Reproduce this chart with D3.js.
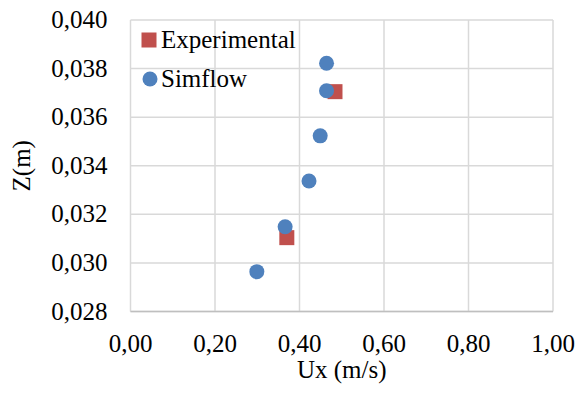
<!DOCTYPE html>
<html>
<head>
<meta charset="utf-8">
<script src="https://cdn.jsdelivr.net/npm/d3@7"></script>
<style>
  body { margin: 0; background: #fff; }
</style>
</head>
<body>
<svg id="chart" width="585" height="396"></svg>
<script>
// Ux (m/s) vs Z (m)
const expUx = [0.484, 0.370];
const expZ = [0.03705, 0.03104];
const simUx = [0.464, 0.464, 0.449, 0.4225, 0.366, 0.299];
const simZ = [0.03822, 0.03709, 0.03523, 0.03337, 0.03149, 0.02964];
const xTicks = [0, 0.2, 0.4, 0.6, 0.8, 1.0];
const yTicks = [0.028, 0.030, 0.032, 0.034, 0.036, 0.038, 0.040];
const seriesNames = ['Experimental', 'Simflow'];

const margin = { top: 20, right: 32, bottom: 84.5, left: 130.5 };
const width = 585, height = 396;
const w = width - margin.left - margin.right;
const h = height - margin.top - margin.bottom;
const font = "'Liberation Serif', 'DejaVu Serif', serif";

const svg = d3.select('#chart')
  .attr('font-family', font);
const g = svg.append('g').attr('transform', `translate(${margin.left},${margin.top})`);

const x = d3.scaleLinear().domain([0, 1]).range([0, w]);
const y = d3.scaleLinear().domain([0.028, 0.040]).range([h, 0]);

const fmt = (d, n) => d.toFixed(n).replace('.', ',');

// gridlines
g.selectAll('.vgrid').data(xTicks).enter().append('line')
  .attr('x1', d => x(d)).attr('x2', d => x(d))
  .attr('y1', 0).attr('y2', h)
  .style('stroke', '#d9d9d9').style('stroke-width', 1.5);

g.selectAll('.hgrid').data(yTicks).enter().append('line')
  .attr('x1', 0).attr('x2', w)
  .attr('y1', d => y(d)).attr('y2', d => y(d))
  .style('stroke', '#d9d9d9').style('stroke-width', 1.5);

// bottom axis line
g.append('line')
  .attr('x1', 0).attr('x2', w).attr('y1', h).attr('y2', h)
  .style('stroke', '#bfbfbf').style('stroke-width', 1.5);

// tick labels
g.selectAll('.xlab').data(xTicks).enter().append('text')
  .attr('x', d => x(d)).attr('y', h + 40)
  .attr('text-anchor', 'middle')
  .style('font-family', font).style('font-size', '25px')
  .text(d => fmt(d, 2));

g.selectAll('.ylab').data(yTicks).enter().append('text')
  .attr('x', -23).attr('y', d => y(d) + 8)
  .attr('text-anchor', 'end')
  .style('font-family', font).style('font-size', '25px')
  .text(d => fmt(d, 3));

// axis titles
svg.append('text')
  .attr('x', margin.left + w / 2).attr('y', 378)
  .attr('text-anchor', 'middle')
  .style('font-family', font).style('font-size', '25px')
  .text('Ux (m/s)');

svg.append('text')
  .attr('transform', `translate(30,${margin.top + h / 2}) rotate(-90)`)
  .attr('text-anchor', 'middle')
  .style('font-family', font).style('font-size', '25px')
  .text('Z(m)');

// series
const expData = expUx.map((v, i) => ({ ux: v, z: expZ[i] }));
const simData = simUx.map((v, i) => ({ ux: v, z: simZ[i] }));

g.selectAll('.exp').data(expData).enter().append('rect')
  .attr('x', d => x(d.ux) - 7.5).attr('y', d => y(d.z) - 7.5)
  .attr('width', 15).attr('height', 15)
  .attr('fill', '#c0504d');

g.selectAll('.sim').data(simData).enter().append('circle')
  .attr('cx', d => x(d.ux)).attr('cy', d => y(d.z))
  .attr('r', 7.5)
  .attr('fill', '#4f81bd');

// legend
const legend = svg.append('g');
legend.append('rect').attr('x', 141.5).attr('y', 32.5).attr('width', 15).attr('height', 15).attr('fill', '#c0504d');
legend.append('text').attr('x', 161).attr('y', 48).style('font-family', font).style('font-size', '25px').text(seriesNames[0]);
legend.append('circle').attr('cx', 150).attr('cy', 79).attr('r', 7.5).attr('fill', '#4f81bd');
legend.append('text').attr('x', 161).attr('y', 87).style('font-family', font).style('font-size', '25px').text(seriesNames[1]);
</script>
</body>
</html>
